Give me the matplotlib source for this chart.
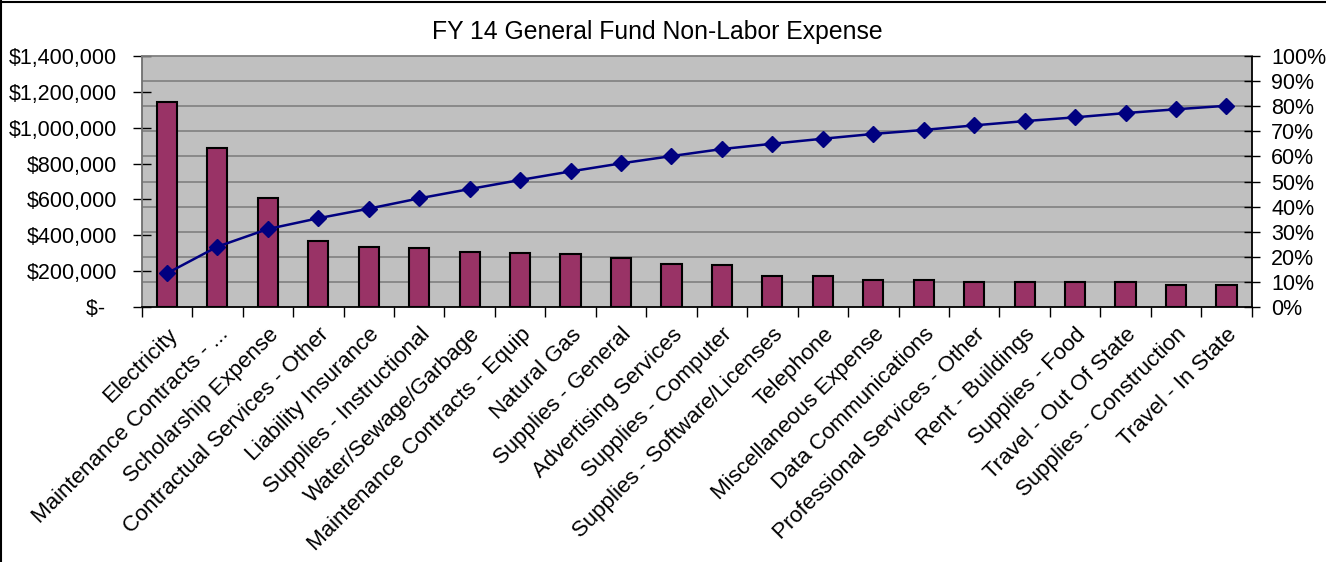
import matplotlib
matplotlib.use("Agg")
import matplotlib.pyplot as plt
import numpy as np
from matplotlib.lines import Line2D

plt.rcParams["font.family"] = ["Liberation Sans", "DejaVu Sans"]

categories = [
    "Electricity", "Maintenance Contracts - ...", "Scholarship Expense",
    "Contractual Services - Other", "Liability Insurance", "Supplies - Instructional",
    "Water/Sewage/Garbage", "Maintenance Contracts - Equip", "Natural Gas",
    "Supplies - General", "Advertising Services", "Supplies - Computer",
    "Supplies - Software/Licenses", "Telephone", "Miscellaneous Expense",
    "Data Communications", "Professional Services - Other", "Rent - Buildings",
    "Supplies - Food", "Travel - Out Of State", "Supplies - Construction",
    "Travel - In State",
]
expense = [1144000, 888000, 608000, 369000, 334000, 328000, 309000, 304000,
           298000, 276000, 243000, 235000, 174000, 172000, 150000, 150000,
           139000, 139000, 139000, 139000, 122000, 122000]
cumulative_pct = [13.5, 24.1, 31.1, 35.4, 39.2, 43.3, 47.0, 50.6, 54.0, 57.2, 60.1,
                  62.9, 65.0, 67.0, 68.9, 70.5, 72.3, 74.0, 75.5, 77.2, 78.7, 80.1]
left_ticks = [0, 200000, 400000, 600000, 800000, 1000000, 1200000, 1400000]
right_ticks = [0, 10, 20, 30, 40, 50, 60, 70, 80, 90, 100]

fig = plt.figure(figsize=(13.26, 5.62), dpi=100)
ax = fig.add_axes([141.7 / 1326, 1 - 307.3 / 562, 1110 / 1326, 251.6 / 562])
ax.set_facecolor("#c0c0c0")

x = np.arange(len(categories))
ax.bar(x, expense, width=0.4, color="#993366", edgecolor="black", linewidth=1.5, zorder=2)
ax.set_xlim(-0.5, len(categories) - 0.5)
ax.set_ylim(0, 1400000)

# gridlines follow the 10% steps of the right axis
ax.set_yticks(np.linspace(0, 1400000, 11), minor=True)
ax.grid(True, which="minor", axis="y", color="#808080", linewidth=1.2)
ax.tick_params(axis="y", which="minor", length=0)
ax.set_axisbelow(True)

ax.set_yticks(left_ticks)
ax.set_yticklabels([f"${v:,.0f}" if v else "$-  " for v in left_ticks])
ax.tick_params(axis="y", which="major", direction="inout", length=13, width=1,
               labelsize=15.5, pad=11)

ax.set_xticks(x)
ax.set_xticklabels(categories, rotation=45, ha="right", va="top",
                   rotation_mode="anchor", fontsize=16)
ax.set_xticks(np.arange(len(categories) + 1) - 0.5, minor=True)
ax.tick_params(axis="x", which="major", length=0, pad=12)
ax.tick_params(axis="x", which="minor", direction="out", length=7, width=1)

ax.spines["left"].set_color("#707070")
ax.spines["top"].set_color("#808080")
ax.spines["bottom"].set_color("black")
ax.spines["right"].set_color("black")
for s in ax.spines.values():
    s.set_linewidth(1.3)

ax2 = ax.twinx()
ax2.plot(x, [p / 100 for p in cumulative_pct], color="#000080", linewidth=1.8,
         marker="D", markersize=8.5, markerfacecolor="#000080",
         markeredgecolor="#000080")
ax2.set_ylim(0, 1)
ax2.set_yticks([t / 100 for t in right_ticks])
ax2.set_yticklabels([f"{t}%" for t in right_ticks])
ax2.tick_params(axis="y", direction="inout", length=12, width=1,
                labelsize=15.5, pad=8)
for s in ax2.spines.values():
    s.set_visible(False)

fig.text(0.496, 1 - 39.3 / 562, "FY 14 General Fund Non-Labor Expense",
         ha="center", va="baseline", fontsize=17.8)

# outer frame (only top and left edges visible)
fig.add_artist(Line2D([0, 1], [1 - 1.5 / 562] * 2, color="black", linewidth=1.5,
                      transform=fig.transFigure))
fig.add_artist(Line2D([1.2 / 1326] * 2, [0, 1], color="black", linewidth=1.5,
                      transform=fig.transFigure))

fig.savefig("out.png", dpi=100)
